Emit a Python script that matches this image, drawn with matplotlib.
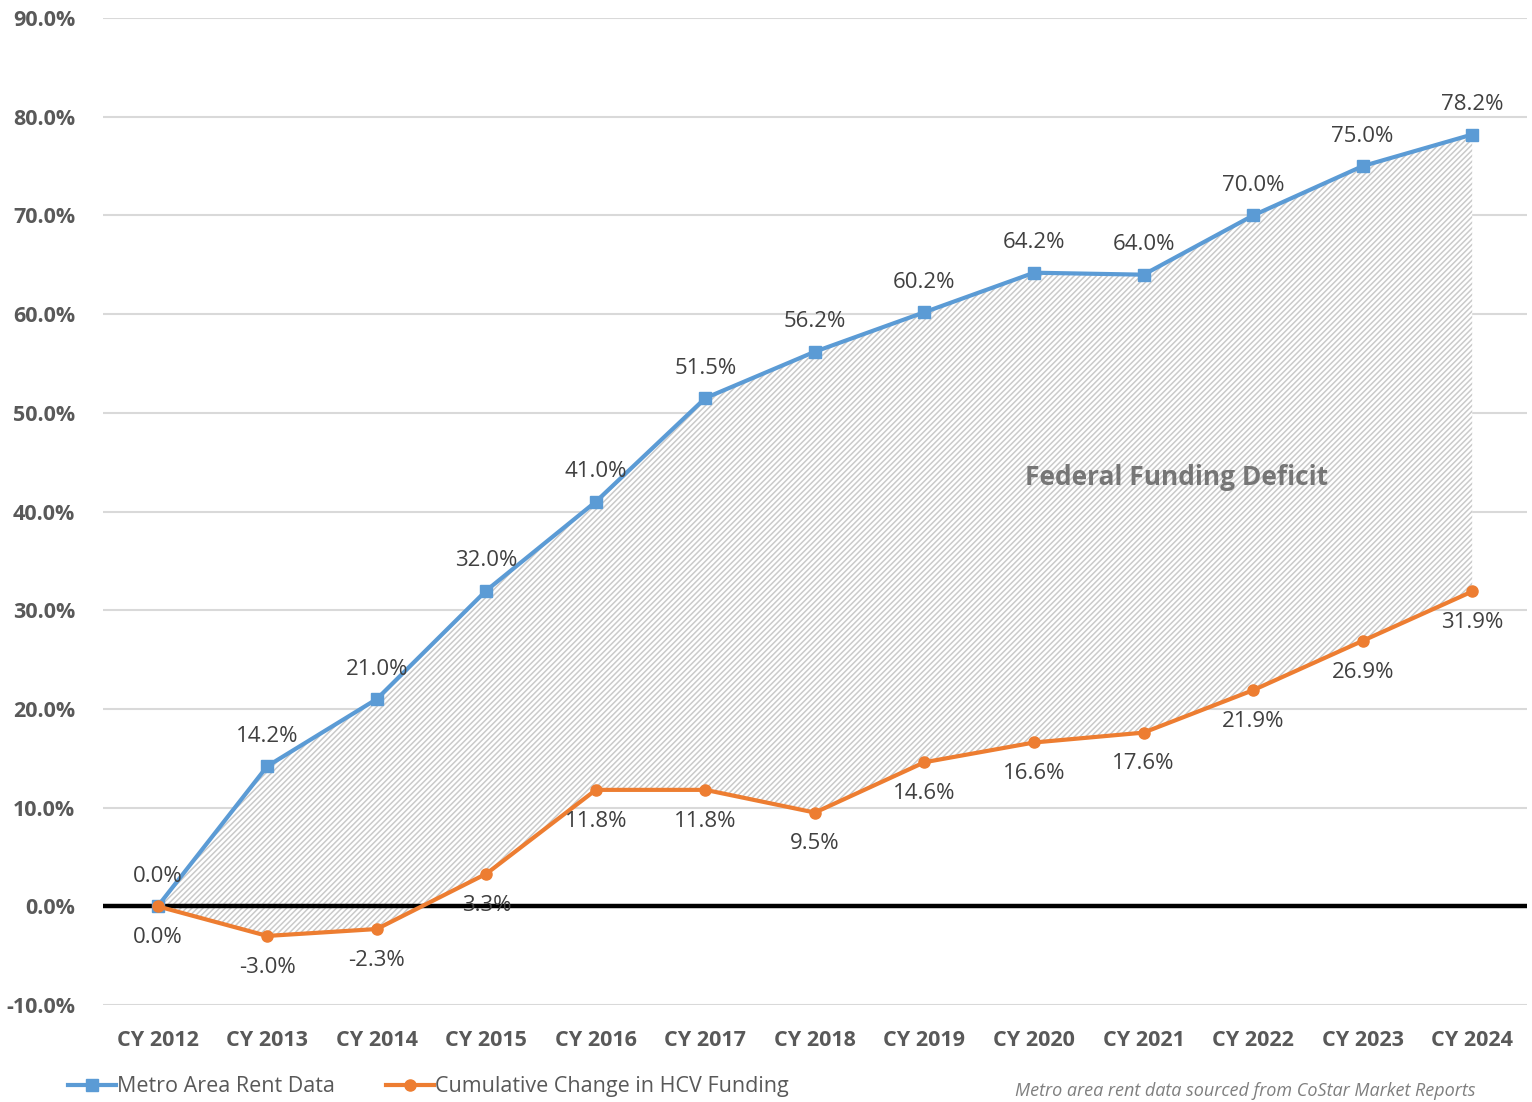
import matplotlib.pyplot as plt
import numpy as np

years = ["CY 2012", "CY 2013", "CY 2014", "CY 2015", "CY 2016", "CY 2017", "CY 2018",
         "CY 2019", "CY 2020", "CY 2021", "CY 2022", "CY 2023", "CY 2024"]
rent = [0.0, 14.2, 21.0, 32.0, 41.0, 51.5, 56.2, 60.2, 64.2, 64.0, 70.0, 75.0, 78.2]
hcv = [0.0, -3.0, -2.3, 3.3, 11.8, 11.8, 9.5, 14.6, 16.6, 17.6, 21.9, 26.9, 31.9]

BLUE = "#5B9BD5"
ORANGE = "#ED7D31"
GRAY = "#595959"

plt.rcParams["font.family"] = ["Open Sans", "DejaVu Sans"]
plt.rcParams["hatch.linewidth"] = 1.1

fig = plt.figure(figsize=(15.32, 11.02), dpi=100)
ax = fig.add_axes([0.0672, 0.088, 0.9295, 0.8956])

x = np.arange(len(years))

# hatched deficit area between the two series
ax.fill_between(x, hcv, rent, facecolor="white", edgecolor="#CACACA", hatch="//////",
                linewidth=0, zorder=1)

ax.axhline(0, color="black", linewidth=3.2, zorder=2)

ax.plot(x, rent, color=BLUE, linewidth=3, marker="s", markersize=8, zorder=4,
        label="Metro Area Rent Data")
ax.plot(x, hcv, color=ORANGE, linewidth=3, marker="o", markersize=8, zorder=5,
        label="Cumulative Change in HCV Funding")

for i, v in enumerate(rent):
    ax.annotate(f"{v:.1f}%", (i, v), xytext=(0, 14), textcoords="offset points",
                ha="center", va="bottom", fontsize=16, color="#404040", zorder=6)
for i, v in enumerate(hcv):
    ax.annotate(f"{v:.1f}%", (i, v), xytext=(0, -15), textcoords="offset points",
                ha="center", va="top", fontsize=16, color="#404040", zorder=6)

ax.text(9.3, 43.4, "Federal Funding Deficit", ha="center", va="center",
        fontsize=19, fontweight="bold", color="#767676", zorder=6)

ax.set_xlim(-0.5, len(years) - 0.5)
ax.set_ylim(-10, 90)
ax.set_yticks(np.arange(-10, 91, 10))
ax.set_yticklabels([f"{t:.1f}%" for t in np.arange(-10, 91, 10)])
ax.set_xticks(x)
ax.set_xticklabels(years)
ax.tick_params(axis="both", length=0, labelsize=15.5, labelcolor=GRAY)
ax.tick_params(axis="y", pad=20)
ax.tick_params(axis="x", pad=18)
for lbl in ax.get_xticklabels() + ax.get_yticklabels():
    lbl.set_fontweight("bold")

ax.grid(axis="y", color="#D9D9D9", linewidth=1.5, zorder=0)
ax.set_axisbelow(True)
for s in ax.spines.values():
    s.set_visible(False)

fig.legend(loc="center left", bbox_to_anchor=(0.032, 0.014), ncol=2, frameon=False,
           fontsize=15.5, labelcolor=GRAY, handlelength=2.2, handletextpad=0.05,
           columnspacing=2.4)

fig.text(0.6625, 0.002, "Metro area rent data sourced from CoStar Market Reports",
         ha="left", va="bottom", fontsize=13, style="italic", color="#7F7F7F")

fig.savefig("out.png", dpi=100)
